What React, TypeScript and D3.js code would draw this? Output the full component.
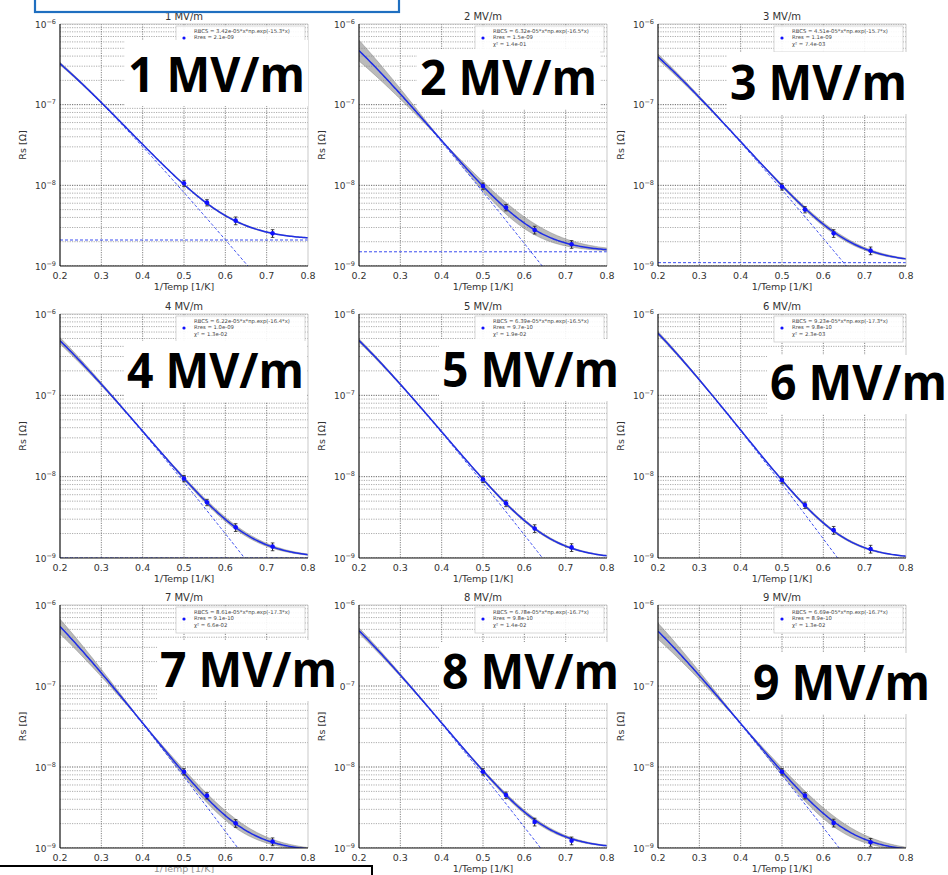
import React from 'react';
import * as d3 from 'd3';

// ---------- data ----------
const fieldLabels = ['1 MV/m', '2 MV/m', '3 MV/m', '4 MV/m', '5 MV/m', '6 MV/m', '7 MV/m', '8 MV/m', '9 MV/m'];
const invTemp = [0.5, 0.5556, 0.625, 0.7143];
const rs1 = [1.06e-8, 6.1e-9, 3.65e-9, 2.54e-9];
const rs2 = [9.8e-9, 5.3e-9, 2.8e-9, 1.86e-9];
const rs3 = [9.6e-9, 5.0e-9, 2.54e-9, 1.55e-9];
const rs4 = [9.5e-9, 4.83e-9, 2.38e-9, 1.38e-9];
const rs5 = [9.3e-9, 4.7e-9, 2.31e-9, 1.35e-9];
const rs6 = [9.1e-9, 4.47e-9, 2.2e-9, 1.29e-9];
const rs7 = [8.75e-9, 4.43e-9, 2.02e-9, 1.2e-9];
const rs8 = [8.75e-9, 4.5e-9, 2.1e-9, 1.23e-9];
const rs9 = [8.75e-9, 4.43e-9, 2.04e-9, 1.18e-9];
const rsData = [rs1, rs2, rs3, rs4, rs5, rs6, rs7, rs8, rs9];
const errFrac = [0.09, 0.09, 0.11, 0.11];
const bcsA = [3.42e-5, 6.32e-5, 4.51e-5, 6.22e-5, 6.39e-5, 9.23e-5, 8.61e-5, 6.78e-5, 6.69e-5];
const bcsDelta = [15.3, 16.5, 15.7, 16.4, 16.5, 17.3, 17.3, 16.7, 16.7];
const rRes = [2.1e-9, 1.5e-9, 1.1e-9, 1.0e-9, 9.7e-10, 9.8e-10, 9.1e-10, 9.8e-10, 8.9e-10];
const chi2 = ['', '1.4e-01', '7.4e-03', '1.3e-02', '1.9e-02', '2.3e-03', '6.6e-02', '1.4e-02', '1.3e-02'];
const deltaSigma = [0.2, 1.5, 0.4, 0.45, 0.25, 0.25, 1.05, 0.4, 1.15];
const xTicks = [0.2, 0.3, 0.4, 0.5, 0.6, 0.7, 0.8];
const yTickExp = [-9, -8, -7, -6];
const xDomain = [0.2, 0.8];
const yDomain = [1e-9, 1e-6];

// ---------- layout ----------
const W = 948;
const H = 875;
const colLeft = [60, 359, 658];
const rowTop = [24, 314, 605];
const rowH = [242, 244, 243];
const plotW = 248;
const labelPos = [
  [128, 92], [420, 95], [730, 100],
  [127, 388], [442, 387], [770, 400],
  [160, 687], [442, 689], [753, 700],
];
const labelBoxTop = [52, 46, 48, 47, 48, 45, 47, 47, 47];
const BLUE = '#1f2de6';
const FONT = "'DejaVu Sans', sans-serif";

function fmtExp(v: number, d: number) {
  const s = v.toExponential(d);
  const [m, e] = s.split('e');
  const sign = e[0] === '-' ? '-' : '+';
  const digits = e.replace(/[+-]/, '').padStart(2, '0');
  return `${m}e${sign}${digits}`;
}

function Panel({ i }: { i: number }) {
  const r = Math.floor(i / 3);
  const c = i % 3;
  const left = colLeft[c];
  const top = rowTop[r];
  const h = rowH[r];
  const x = d3.scaleLinear().domain(xDomain).range([left, left + plotW]);
  const y = d3.scaleLog().domain(yDomain).range([top + h, top]);
  const A = bcsA[i];
  const D = bcsDelta[i];
  const R = rRes[i];
  const sig = deltaSigma[i];
  const bcs = (t: number) => A * t * Math.exp(-D * t);
  const xs = d3.range(0.2, 0.8001, 0.004);
  const fitLine = d3.line<number>().x((t) => x(t)).y((t) => y(bcs(t) + R));
  const bcsLine = d3.line<number>().x((t) => x(t)).y((t) => y(bcs(t)));
  const band = d3
    .area<number>()
    .x((t) => x(t))
    .y0((t) => y(bcs(t) * Math.exp(-sig * Math.abs(t - 0.4)) + R))
    .y1((t) => y(bcs(t) * Math.exp(sig * Math.abs(t - 0.4)) + R));
  const yTicksAll = y.ticks();
  const clipId = `clip-${i}`;
  const pts = rsData[i];
  const lgX = left + plotW - 132;
  const lgY = top + 2;
  return (
    <g>
      <defs>
        <clipPath id={clipId}>
          <rect x={left} y={top} width={plotW} height={h} />
        </clipPath>
      </defs>
      <rect x={left} y={top} width={plotW} height={h} fill="#fff" />
      <g clipPath={`url(#${clipId})`}>
        {yTicksAll.map((t, k) => {
          const major = Math.abs(Math.log10(t) - Math.round(Math.log10(t))) < 1e-6;
          return (
            <line key={'h' + k} x1={left} x2={left + plotW} y1={y(t)} y2={y(t)}
              stroke={major ? '#555' : '#8a8a8a'} strokeWidth={major ? 0.9 : 0.7} strokeDasharray="1.2,1.2" />
          );
        })}
        {xTicks.slice(1, -1).map((t, k) => (
          <line key={'v' + k} x1={x(t)} x2={x(t)} y1={top} y2={top + h}
            stroke="#666" strokeWidth={0.8} strokeDasharray="1.2,1.2" />
        ))}
        <path d={band(xs) || ''} fill="#8c8c8c" fillOpacity={0.6} stroke="#777" strokeWidth={0.4} />
        <path d={bcsLine(xs) || ''} fill="none" stroke="#3a4cf0" strokeWidth={1} strokeDasharray="3,2" />
        <line x1={left} x2={left + plotW} y1={y(R)} y2={y(R)} stroke="#3a4cf0" strokeWidth={1} strokeDasharray="3,2" />
        <path d={fitLine(xs) || ''} fill="none" stroke={BLUE} strokeWidth={1.5} />
        {pts.map((v, k) => {
          const e = v * errFrac[k];
          const px = x(invTemp[k]);
          return (
            <g key={'p' + k}>
              <line x1={px} x2={px} y1={y(v - e)} y2={y(v + e)} stroke="#222" strokeWidth={1} />
              <line x1={px - 1.8} x2={px + 1.8} y1={y(v - e)} y2={y(v - e)} stroke="#222" strokeWidth={0.8} />
              <line x1={px - 1.8} x2={px + 1.8} y1={y(v + e)} y2={y(v + e)} stroke="#222" strokeWidth={0.8} />
              <circle cx={px} cy={y(v)} r={2.3} fill="#1010ff" />
            </g>
          );
        })}
      </g>
      {/* spines */}
      <line x1={left} x2={left + plotW} y1={top} y2={top} stroke="#bbb" strokeWidth={0.8} />
      <line x1={left + plotW} x2={left + plotW} y1={top} y2={top + h} stroke="#bbb" strokeWidth={0.8} />
      <line x1={left} x2={left} y1={top} y2={top + h} stroke="#111" strokeWidth={1.2} />
      <line x1={left} x2={left + plotW} y1={top + h} y2={top + h} stroke="#111" strokeWidth={1.2} />
      {/* tick labels */}
      {xTicks.map((t, k) => (
        <text key={'xt' + k} x={x(t)} y={top + h + 13} textAnchor="middle" fontSize={9.5} fill="#333" fontFamily={FONT}>
          {t.toFixed(1)}
        </text>
      ))}
      {yTickExp.map((ex, k) => (
        <text key={'yt' + k} x={left - 4} y={y(Math.pow(10, ex)) + 3.5} textAnchor="end" fontSize={9} fill="#333" fontFamily={FONT}>
          <tspan>10</tspan>
          <tspan dy={-4} fontSize={6.5}>{'\u2212' + Math.abs(ex)}</tspan>
        </text>
      ))}
      <text x={left + plotW / 2} y={top - 4} textAnchor="middle" fontSize={10} fill="#333" fontFamily={FONT}>
        {fieldLabels[i]}
      </text>
      <text x={left + plotW / 2} y={top + h + 24} textAnchor="middle" fontSize={9.5} fill="#333" fontFamily={FONT}>
        1/Temp [1/K]
      </text>
      <text transform={`translate(${left - 34},${top + h / 2}) rotate(-90)`} textAnchor="middle" fontSize={9.5} fill="#333" fontFamily={FONT}>
        Rs [Ω]
      </text>
      {/* legend */}
      <rect x={lgX} y={lgY} width={129} height={26} fill="#fff" fillOpacity={0.9} stroke="#ccc" strokeWidth={0.8} />
      <circle cx={lgX + 8} cy={lgY + 12} r={1.6} fill="#1010ff" />
      <g fontSize={5.3} fill="#444" fontFamily={FONT}>
        <text x={lgX + 18} y={lgY + 6.5}>{`RBCS = ${fmtExp(A, 2)}*x*np.exp(-${D.toFixed(1)}*x)`}</text>
        <text x={lgX + 18} y={lgY + 13}>{`Rres = ${fmtExp(R, 1)}`}</text>
        {chi2[i] ? <text x={lgX + 18} y={lgY + 19.5}>{`\u03c7\u00b2 = ${chi2[i]}`}</text> : null}
      </g>
    </g>
  );
}

export default function App() {
  return (
    <svg width={W} height={H} viewBox={`0 0 ${W} ${H}`}
      style={{ position: 'absolute', left: 0, top: 0, background: '#fff' }}>
      <rect x={0} y={0} width={W} height={H} fill="#fff" />
      {fieldLabels.map((_, i) => (
        <Panel key={i} i={i} />
      ))}
      {fieldLabels.map((lab, i) => {
        const [lx, ly] = labelPos[i];
        const bt = labelBoxTop[i];
        return (
          <g key={'big' + i}>
            <rect x={lx - 3} y={ly - bt} width={183} height={bt + 14} fill="#fff" />
            <text x={lx} y={ly} fontFamily="'Open Sans', 'Noto Sans', sans-serif" fontWeight={700} fontSize={49}
              textLength={177} lengthAdjust="spacingAndGlyphs" fill="#000">
              {lab}
            </text>
          </g>
        );
      })}
      <rect x={35} y={-5} width={364} height={17} fill="none" stroke="#1f6fc0" strokeWidth={2.2} />
      <rect x={-2} y={866} width={374} height={20} fill="#fff" fillOpacity={0.45} stroke="#000" strokeWidth={2} />
    </svg>
  );
}
